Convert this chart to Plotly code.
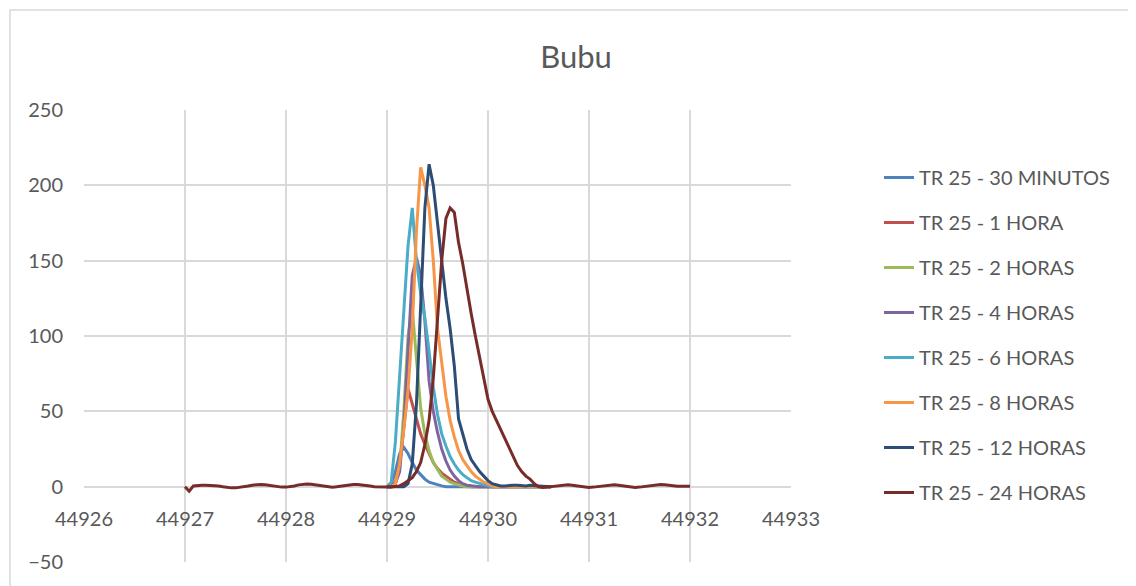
import plotly.graph_objects as go

# ---------------- data ----------------
names = ["TR 25 - 30 MINUTOS", "TR 25 - 1 HORA", "TR 25 - 2 HORAS", "TR 25 - 4 HORAS",
         "TR 25 - 6 HORAS", "TR 25 - 8 HORAS", "TR 25 - 12 HORAS", "TR 25 - 24 HORAS"]
colors = ["#4F81BD", "#C0504D", "#9BBB59", "#8064A2", "#4BACC6", "#F79646", "#2C4D75", "#772C2A"]

# hourly samples of the event window, starting at 44929.0 (40 values each)
window_start = 44929.0
tr_30min = [0, 2, 10, 22, 26, 22, 16, 11, 8, 5, 3, 2, 1, 0.5, 0, 0, 0, 0, 0, 0,
            0, 0, 0, 0, 0, 0, 0, 0, 0, 0, 0, 0, 0, 0, 0, 0, 0, 0, 0, 0]
tr_1h = [0, 0.5, 3, 15, 40, 65, 55, 44, 35, 28, 22, 16, 12, 9, 7, 5, 3, 2, 1, 0.5,
         0, 0, 0, 0, 0, 0, 0, 0, 0, 0, 0, 0, 0, 0, 0, 0, 0, 0, 0, 0]
tr_2h = [0, 0, 2, 12, 50, 100, 118, 85, 52, 35, 24, 16, 11, 7, 5, 3, 2, 1, 0.5, 0,
         0, 0, 0, 0, 0, 0, 0, 0, 0, 0, 0, 0, 0, 0, 0, 0, 0, 0, 0, 0]
tr_4h = [0, 0, 2, 10, 40, 90, 140, 152, 140, 110, 70, 50, 36, 25, 17, 11, 7, 4, 2, 1,
         0.5, 0, 0, 0, 0, 0, 0, 0, 0, 0, 0, 0, 0, 0, 0, 0, 0, 0, 0, 0]
tr_6h = [0, 3, 30, 75, 115, 160, 185, 150, 128, 112, 90, 66, 48, 35, 27, 20, 15, 11, 8, 6,
         4, 3, 2, 1, 0.5, 0, 0, 0, 0, 0, 0, 0, 0, 0, 0, 0, 0, 0, 0, 0]
tr_8h = [0, 0, 2, 15, 38, 64, 105, 170, 212, 200, 185, 150, 105, 82, 60, 44, 33, 24, 18, 14,
         10, 7, 5, 3, 2, 0.5, 0, 0, 0, 0, 0, 0, 0, 0, 0, 0, 0, 0, 0, 0]
tr_12h = [0, 0, 0, 0, 0, 2, 15, 55, 125, 185, 214, 200, 175, 150, 125, 105, 80, 45, 35, 25,
          18, 14, 10, 7, 4, 2, 1, 0.5, 0.5, 1, 1, 1, 0.5, 0.5, 1, 1, 0.5, 0.3, 0, 0]

# 24 h series: hourly from 44927.0 to 44932.0 (121 values)
series_24h_start = 44927.0
tr_24h = [0, -3, 0.5, 1, 1, 1, 1, 0.8, 0.5, 0, -0.5, -0.8, -0.8, -0.5, 0, 0.5, 1, 1.3, 1.5, 1.2,
          0.8, 0.3, 0, -0.3, -0.3, 0, 0.5, 1.2, 1.6, 1.8, 1.6, 1.2, 0.6, 0.2, -0.2, -0.3, 0, 0.4, 0.9, 1.3,
          1.5, 1.4, 1.2, 0.8, 0.4, 0, -0.2, -0.3,
          -0.3, -0.2, 0, 0.5, 2, 4, 6, 10, 16, 28, 44, 72, 110, 150, 178, 185, 182, 162, 148, 130,
          115, 100, 86, 72, 58, 50, 44, 37, 32, 25, 20, 14, 10, 7, 5, 2, 0, -0.5, -0.3, 0,
          0.5, 1, 1.2, 1.2, 1, 0.5, 0, -0.3, -0.5, -0.3, 0, 0.5, 1, 1.3, 1.3, 1, 0.5, 0, -0.4, -0.5,
          -0.3, 0, 0.5, 1, 1.3, 1.4, 1.2, 0.8, 0.5, 0.3, 0.2, 0.3, 0.2]

x_ticks = [44926, 44927, 44928, 44929, 44930, 44931, 44932, 44933]
y_ticks = [-50, 0, 50, 100, 150, 200, 250]
title_text = "Bubu"

# ---------------- figure ----------------
def hourly(start, n):
    return [start + i / 24 for i in range(n)]

window_series = [tr_30min, tr_1h, tr_2h, tr_4h, tr_6h, tr_8h, tr_12h]
fig = go.Figure()
for i, vals in enumerate(window_series):
    fig.add_trace(go.Scatter(x=hourly(window_start, len(vals)), y=vals, mode="lines",
                             name=names[i], line=dict(color=colors[i], width=3),
                             legendgroup=str(i)))
fig.add_trace(go.Scatter(x=hourly(series_24h_start, len(tr_24h)), y=tr_24h, mode="lines",
                         name=names[7], line=dict(color=colors[7], width=3),
                         legendgroup="7"))

# the page body has an 8px margin, so figure coords = screen coords - 8
OFF = 8
W, H = 1136, 586
pl, pr, pt, pb = 84 - OFF, 791 - OFF, 110 - OFF, 562 - OFF   # plot-area edges (figure px)
l, r, t, b = pl, W - pr, pt, H - pb
pw, ph = pr - pl, pb - pt
gray = "#595959"
grid = "#D9D9D9"
font_family = "Lato, 'Open Sans', sans-serif"

def px_to_paper_x(px):
    return (px - pl) / pw

def px_to_paper_y(py):
    return (pb - py) / ph

fig.update_layout(
    width=W, height=H,
    margin=dict(l=l, r=r, t=t, b=b),
    paper_bgcolor="white", plot_bgcolor="white",
    title=dict(text=title_text, x=0.5, xanchor="center", y=1 - (57 - OFF) / H, yanchor="middle",
               font=dict(size=31, color=gray, family=font_family)),
    font=dict(family=font_family, color=gray, size=20),
    showlegend=True,
    legend=dict(x=px_to_paper_x(871), xanchor="left", y=px_to_paper_y(150), yanchor="top",
                font=dict(size=20, color=gray), tracegroupgap=16,
                traceorder="grouped", bgcolor="rgba(0,0,0,0)"),
    xaxis=dict(range=[44926, 44933], tickvals=x_ticks, ticktext=[str(v) for v in x_ticks],
               showgrid=True, gridcolor=grid, gridwidth=1.5, zeroline=False,
               showline=False, anchor="free", position=50 / 300, ticks="",
               tickfont=dict(size=20, color=gray), ticklabelstandoff=18),
    yaxis=dict(range=[-50, 250], tickvals=y_ticks, showgrid=True, gridcolor=grid, gridwidth=1.5,
               zeroline=True, zerolinecolor=grid, zerolinewidth=1.5, showline=False, ticks="",
               tickfont=dict(size=20, color=gray), ticklabelstandoff=20),
    shapes=[dict(type="rect", xref="paper", yref="paper",
                 x0=px_to_paper_x(2), x1=px_to_paper_x(W + 20),
                 y0=px_to_paper_y(H + 20), y1=px_to_paper_y(2),
                 line=dict(color="#D9D9D9", width=1.5), fillcolor="rgba(0,0,0,0)", layer="below")],
)

fig.write_html("out.html")
